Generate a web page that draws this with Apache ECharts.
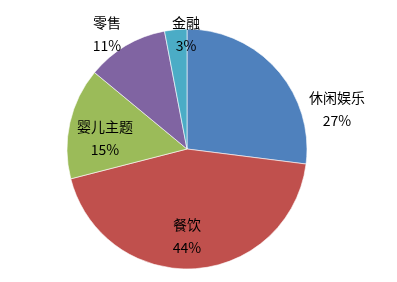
<!DOCTYPE html>
<html>
<head>
<meta charset="utf-8">
<script src="https://cdn.jsdelivr.net/npm/echarts@6/dist/echarts.min.js"></script>
<style>
  html, body { margin: 0; padding: 0; background: #fff; }
  #chart { width: 397px; height: 282px; }
</style>
</head>
<body>
<div id="chart"></div>
<script>
// Share of each business type (percent)
const categories = ['休闲娱乐', '餐饮', '婴儿主题', '零售', '金融'];
const shares = [27, 44, 15, 11, 3];
const colors = ['#4F81BD', '#C0504D', '#9BBB59', '#8064A2', '#4BACC6'];

// Label anchor points (centre of the two-line label)
const labelSpots = [[337, 109], [187, 236], [105, 138], [107, 34], [186, 34]];

const chart = echarts.init(document.getElementById('chart'), null, { renderer: 'canvas' });

chart.setOption({
  animation: false,
  backgroundColor: '#ffffff',
  series: [{
    type: 'pie',
    center: [187, 149],
    radius: 120,
    startAngle: 90,
    clockwise: true,
    avoidLabelOverlap: false,
    data: categories.map((name, i) => ({
      name,
      value: shares[i],
      itemStyle: { color: colors[i] }
    })),
    itemStyle: { borderColor: '#ffffff', borderWidth: 0.6 },
    label: {
      show: true,
      position: 'inside',
      formatter: p => p.name + '\n' + p.value + '%',
      fontFamily: 'Noto Sans CJK SC',
      fontSize: 14,
      lineHeight: 23,
      color: '#000000',
      align: 'center'
    },
    labelLine: { show: false },
    labelLayout: p => ({
      x: labelSpots[p.dataIndex][0],
      y: labelSpots[p.dataIndex][1],
      align: 'center',
      verticalAlign: 'middle'
    })
  }]
});
</script>
</body>
</html>
